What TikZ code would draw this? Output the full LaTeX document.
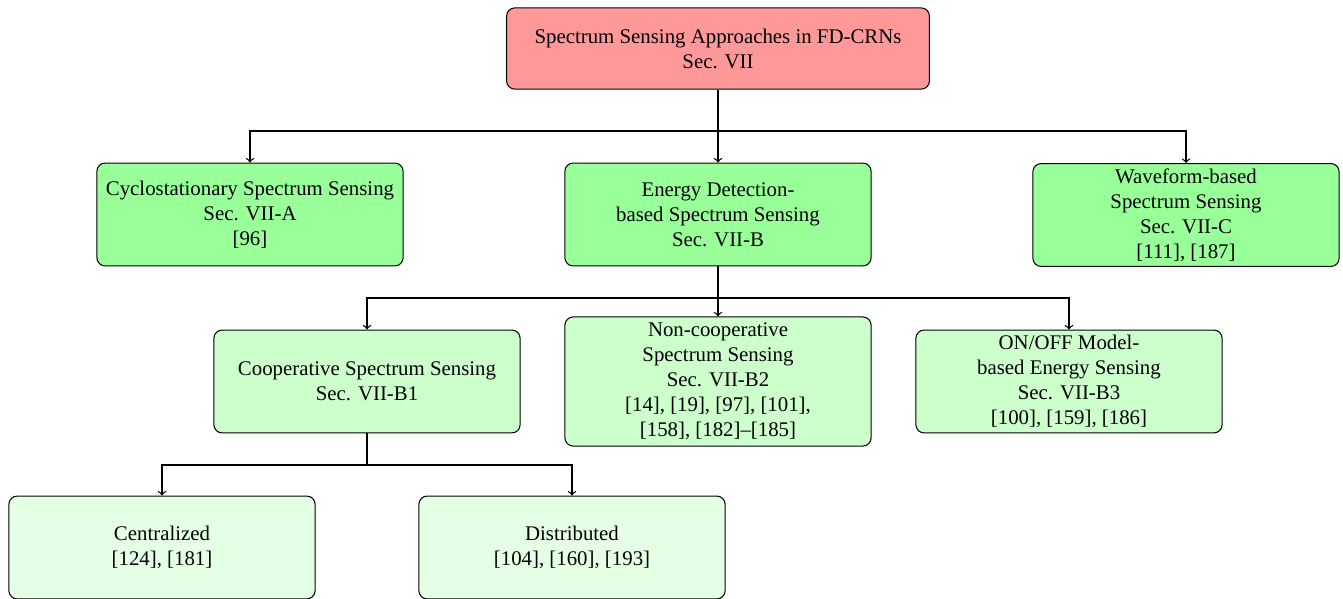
\documentclass[tikz,border=0pt]{standalone}
\usepackage{fontspec}
\setmainfont{Liberation Serif}
\begin{document}
\begin{tikzpicture}[x=0.48pt,y=-0.48pt,
  box/.style={draw=black, line width=0.5pt, rounded corners=4pt, align=center,
    minimum width=147pt, minimum height=49.4pt, inner sep=2pt, font=\fontsize{10pt}{12pt}\selectfont},
  rootbox/.style={box, fill=red!40, minimum width=203pt, minimum height=39pt},
  lone/.style={box, fill=green!40},
  ltwo/.style={box, fill=green!20},
  lthree/.style={box, fill=green!10},
  trunk/.style={draw=black, line width=0.6pt},
  conn/.style={trunk, ->}]
\useasboundingbox (0,0) rectangle (1343,599);
\node[rootbox] (root) at (718,48.5) {Spectrum Sensing Approaches in FD-CRNs\\Sec. VII};
\node[lone] (cyc) at (250,214.5) {Cyclostationary Spectrum Sensing\\Sec. VII-A\\{[96]}};
\node[lone] (ene) at (718,214.5) {Energy Detection-\\based Spectrum Sensing\\Sec. VII-B};
\node[lone] (wav) at (1186,215) {Waveform-based\\Spectrum Sensing\\Sec. VII-C\\{[111], [187]}};
\node[ltwo] (coop) at (367,381.5) {Cooperative Spectrum Sensing\\Sec. VII-B1};
\node[ltwo, minimum height=62pt] (ncoop) at (718,381.5) {Non-cooperative\\Spectrum Sensing\\Sec. VII-B2\\{[14], [19], [97], [101],}\\{[158], [182]--[185]}};
\node[ltwo] (onoff) at (1069,381.5) {ON/OFF Model-\\based Energy Sensing\\Sec. VII-B3\\{[100], [159], [186]}};
\node[lthree] (cen) at (162,547.5) {Centralized\\{[124], [181]}};
\node[lthree] (dis) at (572,547.5) {Distributed\\{[104], [160], [193]}};
\coordinate (j1) at (718,131);
\coordinate (j2) at (718,298);
\coordinate (j3) at (367,465);
\draw[trunk] (root.south) -- (j1);
\draw[conn] (j1) -| (cyc.north);
\draw[conn] (j1) -- (ene.north);
\draw[conn] (j1) -| (wav.north);
\draw[trunk] (ene.south) -- (j2);
\draw[conn] (j2) -| (coop.north);
\draw[conn] (j2) -- (ncoop.north);
\draw[conn] (j2) -| (onoff.north);
\draw[trunk] (coop.south) -- (j3);
\draw[conn] (j3) -| (cen.north);
\draw[conn] (j3) -| (dis.north);
\end{tikzpicture}
\end{document}
